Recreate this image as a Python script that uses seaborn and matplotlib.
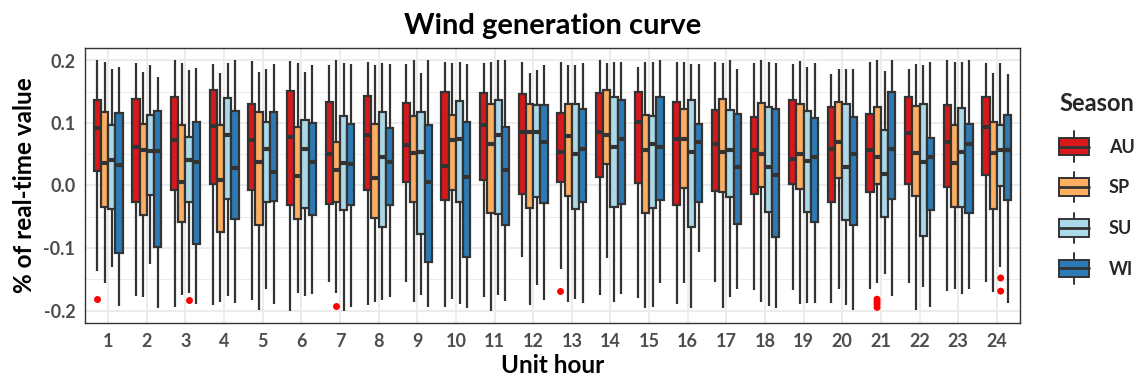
import numpy as np
import pandas as pd
import matplotlib
matplotlib.use("Agg")
import matplotlib.pyplot as plt
import seaborn as sns
from matplotlib.patches import Rectangle, Patch
from matplotlib.lines import Line2D
from matplotlib.legend_handler import HandlerBase
from matplotlib.ticker import MultipleLocator

# ---------------- data ----------------
hours = [str(h) for h in range(1, 25)]
seasons = ["AU", "SP", "SU", "WI"]
colors = ["#D7191C", "#FDAE61", "#ABD9E9", "#2C7BB6"]

au_high = [0.200, 0.196, 0.200, 0.194, 0.199, 0.199, 0.193, 0.198, 0.194, 0.197, 0.196, 0.197,
           0.198, 0.200, 0.189, 0.197, 0.197, 0.196, 0.195, 0.179, 0.197, 0.187, 0.200, 0.196]
au_q3 = [0.137, 0.138, 0.141, 0.152, 0.131, 0.151, 0.133, 0.143, 0.132, 0.149, 0.148, 0.146,
         0.116, 0.148, 0.149, 0.134, 0.120, 0.109, 0.136, 0.125, 0.114, 0.142, 0.128, 0.141]
au_med = [0.092, 0.061, 0.073, 0.095, 0.073, 0.078, 0.050, 0.080, 0.065, 0.031, 0.097, 0.085,
          0.053, 0.085, 0.101, 0.074, 0.066, 0.056, 0.042, 0.059, 0.057, 0.084, 0.070, 0.094]
au_q1 = [0.023, -0.026, -0.007, 0.002, -0.008, -0.032, -0.029, -0.007, 0.005, -0.024, 0.009, -0.013,
         0.006, 0.014, 0.004, -0.031, -0.009, -0.014, 0.003, -0.026, -0.010, 0.002, -0.003, 0.017]
au_low = [-0.137, -0.176, -0.195, -0.191, -0.183, -0.200, -0.154, -0.191, -0.155, -0.195, -0.178, -0.114,
          -0.133, -0.175, -0.180, -0.190, -0.155, -0.167, -0.167, -0.188, -0.166, -0.156, -0.169, -0.155]

sp_high = [0.197, 0.182, 0.196, 0.180, 0.182, 0.196, 0.200, 0.192, 0.200, 0.196, 0.197, 0.180,
           0.192, 0.196, 0.197, 0.198, 0.196, 0.200, 0.199, 0.186, 0.200, 0.194, 0.197, 0.180]
sp_q3 = [0.118, 0.099, 0.096, 0.097, 0.118, 0.093, 0.070, 0.098, 0.111, 0.113, 0.131, 0.130,
         0.130, 0.152, 0.113, 0.123, 0.139, 0.132, 0.131, 0.133, 0.126, 0.127, 0.097, 0.101]
sp_med = [0.036, 0.057, 0.005, 0.009, 0.038, 0.015, 0.024, 0.012, 0.052, 0.073, 0.066, 0.086,
          0.079, 0.081, 0.057, 0.074, 0.053, 0.051, 0.050, 0.069, 0.046, 0.052, 0.036, 0.052]
sp_q1 = [-0.035, -0.048, -0.058, -0.075, -0.063, -0.054, -0.026, -0.052, -0.026, -0.008, -0.044, -0.036,
         -0.017, 0.034, -0.044, -0.004, -0.011, -0.003, -0.005, 0.012, 0.002, -0.017, -0.034, -0.038]
sp_low = [-0.156, -0.178, -0.175, -0.186, -0.199, -0.172, -0.172, -0.186, -0.187, -0.181, -0.200, -0.191,
          -0.186, -0.116, -0.196, -0.156, -0.196, -0.186, -0.190, -0.166, -0.156, -0.199, -0.165, -0.170]

su_high = [0.187, 0.193, 0.184, 0.196, 0.187, 0.182, 0.196, 0.196, 0.180, 0.198, 0.200, 0.185,
           0.192, 0.198, 0.198, 0.194, 0.200, 0.197, 0.190, 0.187, 0.183, 0.193, 0.197, 0.196]
su_q3 = [0.097, 0.113, 0.077, 0.140, 0.102, 0.105, 0.111, 0.117, 0.118, 0.135, 0.137, 0.129,
         0.130, 0.142, 0.111, 0.136, 0.121, 0.126, 0.119, 0.130, 0.088, 0.131, 0.124, 0.096]
su_med = [0.041, 0.055, 0.040, 0.080, 0.058, 0.058, 0.036, 0.046, 0.053, 0.074, 0.081, 0.086,
          0.051, 0.062, 0.066, 0.054, 0.056, 0.030, 0.039, 0.030, 0.018, 0.037, 0.053, 0.057]
su_q1 = [-0.037, -0.015, -0.026, -0.022, -0.026, -0.036, -0.040, -0.066, -0.077, -0.027, -0.045, -0.018,
         -0.037, -0.034, -0.036, -0.067, -0.019, -0.043, -0.042, -0.055, -0.051, -0.081, -0.034, -0.001]
su_low = [-0.131, -0.125, -0.172, -0.177, -0.165, -0.177, -0.200, -0.183, -0.175, -0.189, -0.175, -0.159,
          -0.181, -0.186, -0.195, -0.196, -0.179, -0.193, -0.188, -0.191, -0.142, -0.163, -0.174, -0.131]

wi_high = [0.189, 0.174, 0.188, 0.200, 0.194, 0.192, 0.194, 0.195, 0.200, 0.194, 0.200, 0.193,
           0.196, 0.198, 0.200, 0.194, 0.187, 0.196, 0.196, 0.186, 0.200, 0.197, 0.200, 0.178]
wi_q3 = [0.116, 0.119, 0.101, 0.119, 0.118, 0.100, 0.098, 0.092, 0.097, 0.102, 0.093, 0.129,
         0.122, 0.137, 0.142, 0.099, 0.115, 0.122, 0.108, 0.110, 0.150, 0.076, 0.098, 0.113]
wi_med = [0.032, 0.055, 0.038, 0.028, 0.021, 0.038, 0.035, 0.037, 0.005, 0.013, 0.024, 0.070,
          0.059, 0.075, 0.062, 0.070, 0.030, 0.016, 0.045, 0.051, 0.058, 0.045, 0.067, 0.057]
wi_q1 = [-0.108, -0.098, -0.093, -0.054, -0.025, -0.048, -0.032, -0.031, -0.122, -0.115, -0.064, -0.028,
         -0.027, -0.029, -0.024, -0.026, -0.062, -0.083, -0.058, -0.063, -0.022, -0.039, -0.044, -0.023]
wi_low = [-0.193, -0.196, -0.190, -0.188, -0.190, -0.174, -0.195, -0.179, -0.195, -0.196, -0.185, -0.183,
          -0.188, -0.173, -0.156, -0.106, -0.166, -0.196, -0.188, -0.199, -0.177, -0.195, -0.165, -0.188]

# outliers (hour, season, value)
outlier_hours = ["1", "3", "7", "13", "21", "21", "21", "21", "24", "24"]
outlier_seasons = ["AU", "SU", "SP", "AU", "SP", "SP", "SP", "SP", "SU", "SU"]
outlier_values = [-0.182, -0.183, -0.193, -0.168, -0.182, -0.186, -0.190, -0.195, -0.148, -0.169]

# ---------------- build long table ----------------
stats = {
    "AU": (au_low, au_q1, au_med, au_q3, au_high),
    "SP": (sp_low, sp_q1, sp_med, sp_q3, sp_high),
    "SU": (su_low, su_q1, su_med, su_q3, su_high),
    "WI": (wi_low, wi_q1, wi_med, wi_q3, wi_high),
}
rows = []
for s in seasons:
    lo, q1, md, q3, hi = stats[s]
    for i, h in enumerate(hours):
        for v in (lo[i], q1[i], md[i], q3[i], hi[i]):
            rows.append((h, s, v))
df = pd.DataFrame(rows, columns=["hour", "season", "value"])
out_df = pd.DataFrame({"hour": outlier_hours, "season": outlier_seasons, "value": outlier_values})

# ---------------- style ----------------
sns.set_theme(style="white")
plt.rcParams["font.family"] = ["Lato", "DejaVu Sans"]
EDGE = "#333333"
GRID = "#EBEBEB"

W, H = 1144, 385
fig = plt.figure(figsize=(W / 100, H / 100), dpi=100)
L, R, T, B = 85, 1020, 48, 323
ax = fig.add_axes([L / W, 1 - B / H, (R - L) / W, (B - T) / H])

sns.boxplot(data=df, x="hour", y="value", hue="season", order=hours, hue_order=seasons,
            palette=colors, whis=(0, 100), showfliers=False, showcaps=False, width=0.75, gap=0,
            linecolor=EDGE, linewidth=1.6, saturation=1,
            medianprops=dict(linewidth=3.0, color=EDGE, solid_capstyle="butt"),
            legend=False, ax=ax)
sns.stripplot(data=out_df, x="hour", y="value", hue="season", order=hours, hue_order=seasons,
              dodge=True, jitter=False, palette={s: "#FF0000" for s in seasons}, size=5,
              linewidth=0, legend=False, ax=ax, zorder=5)

ax.set_xlim(-0.6, 23.6)
ax.set_ylim(-0.22, 0.22)
ax.set_yticks([-0.2, -0.1, 0.0, 0.1, 0.2])
ax.set_yticklabels(["-0.2", "-0.1", "0.0", "0.1", "0.2"])
ax.yaxis.set_minor_locator(MultipleLocator(0.05))
ax.set_axisbelow(True)
ax.grid(which="major", axis="both", color=GRID, linewidth=1.3)
ax.grid(which="minor", axis="y", color=GRID, linewidth=0.7)
ax.tick_params(axis="both", which="major", length=4, width=1, color=EDGE,
               labelsize=13, labelcolor="#4D4D4D", pad=3)
ax.tick_params(axis="y", which="minor", length=0)
for lab in ax.get_xticklabels() + ax.get_yticklabels():
    lab.set_fontweight("bold")
for sp in ax.spines.values():
    sp.set_visible(True)
    sp.set_color(EDGE)
    sp.set_linewidth(1.0)

ax.set_xlabel("Unit hour", fontsize=17.5, fontweight="bold", color="black", labelpad=3)
ax.set_ylabel("% of real-time value", fontsize=17.5, fontweight="bold", color="black", labelpad=5)
ax.set_title("Wind generation curve", fontsize=21, fontweight="bold", color="black", pad=10)


class BoxHandler(HandlerBase):
    def create_artists(self, legend, orig_handle, xdescent, ydescent, width, height, fontsize, trans):
        fc = orig_handle.get_facecolor()
        x0, y0 = -xdescent, -ydescent
        cx = x0 + width / 2
        rect = Rectangle((x0, y0), width, height, facecolor=fc, edgecolor=EDGE, lw=1.4, transform=trans)
        med = Line2D([x0, x0 + width], [y0 + height / 2] * 2, color=EDGE, lw=2.0, transform=trans)
        w1 = Line2D([cx, cx], [y0 + height, y0 + height * 1.35], color=EDGE, lw=1.4, transform=trans)
        w2 = Line2D([cx, cx], [y0, y0 - height * 0.35], color=EDGE, lw=1.4, transform=trans)
        return [w1, w2, rect, med]


handles = [Patch(facecolor=c) for c in colors]
fig.legend(handles, seasons, title="Season", handler_map={Patch: BoxHandler()},
           loc="upper left", bbox_to_anchor=(1059 / W, 1 - 92 / H), bbox_transform=fig.transFigure,
           frameon=False, prop={"weight": "bold", "size": 13},
           title_fontproperties={"weight": "bold", "size": 17},
           handlelength=1.65, handleheight=1.15, labelspacing=1.25, handletextpad=1.1,
           borderpad=0, borderaxespad=0, alignment="left")

fig.savefig("out.png", dpi=100, facecolor="white")
